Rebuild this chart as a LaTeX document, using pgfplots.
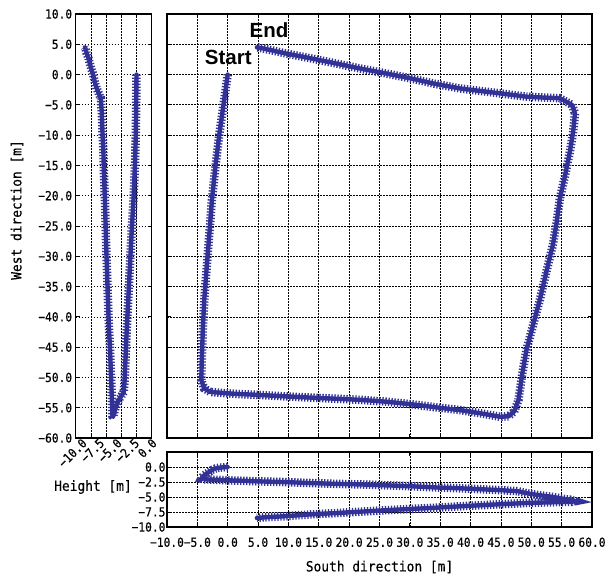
\documentclass[border=0pt]{standalone}
\usepackage{fontspec}
\setmainfont{Liberation Sans}
\newfontfamily\tickfont{DejaVu Sans Mono}[FakeStretch=0.9, FakeBold=0.5]
\newfontfamily\labelfont{DejaVu Sans Mono}[FakeStretch=0.92, FakeBold=0.4]
\usepackage{pgfplots}
\usepackage{pgfplotstable}
\pgfplotsset{compat=1.18}
\definecolor{traj}{RGB}{50,50,150}

\pgfplotstableread{
s w h
0 0 0
-0.7 -5 -0.05
-1.4 -10 -0.12
-2.0 -15 -0.25
-2.6 -20.7 -0.5
-3.0 -26 -0.8
-3.4 -31 -1.05
-3.85 -37 -1.35
-4.1 -42 -1.6
-4.3 -48 -1.85
-4.35 -50.4 -1.95
-3.9 -51.8 -2.05
-2.9 -52.4 -2.1
1.0 -52.7 -2.25
5.3 -52.9 -2.4
9.0 -53.1 -2.5
13.0 -53.3 -2.65
17.5 -53.5 -2.8
21.8 -53.7 -2.9
26.0 -54.0 -3.05
30.0 -54.4 -3.2
34.0 -54.9 -3.4
38.3 -55.4 -3.55
41.5 -55.9 -3.7
44.9 -56.5 -3.85
46.3 -56.4 -3.95
47.2 -55.6 -4.0
47.9 -53.7 -4.05
48.5 -49.5 -4.2
49.2 -45.5 -4.35
50.3 -41.3 -4.55
51.4 -37.2 -4.7
52.5 -32.5 -4.85
53.6 -27.9 -5.0
54.2 -24.2 -5.1
54.7 -20.5 -5.2
55.6 -16.5 -5.35
56.4 -12.5 -5.45
56.9 -9.4 -5.6
57.2 -6.4 -5.7
56.7 -5.0 -5.8
54.7 -3.9 -5.85
52.0 -3.8 -5.92
49.2 -3.65 -6.0
44.0 -3.0 -6.25
38.3 -2.3 -6.55
34.0 -1.5 -6.8
30.0 -0.6 -7.0
26.0 0.2 -7.2
21.8 1.0 -7.45
17.5 1.9 -7.7
13.6 2.7 -7.9
9.5 3.5 -8.2
5.9 4.3 -8.4
4.8 4.5 -8.5
}\trajtable

\pgfplotsset{
  common/.style={
    scale only axis,
    axis line style={line width=1.2pt},
    grid=major,
    grid style={black, line width=0.7pt, dash pattern=on 1.5pt off 1.5pt},
    tick style={black, line width=0.8pt},
    major tick length=4pt,
    tick align=inside,
    ticklabel style={font=\fontsize{12.5}{14}\tickfont},
  },
  trajcore/.style={traj, line width=4.4pt, line join=round, line cap=round},
  trajteeth/.style={traj, line width=8.5pt, dash pattern=on 1.3pt off 1.7pt},
}

\begin{document}
\begin{tikzpicture}[x=1pt,y=1pt]
\useasboundingbox (0,0) rectangle (609,577);

% main axis
\begin{axis}[common, at={(167pt,139pt)}, anchor=south west,
  width=425pt, height=424pt,
  xmin=-10, xmax=60, ymin=-60, ymax=10,
  xtick={-10,-5,...,60}, ytick={-60,-55,...,10},
  xticklabels={}, yticklabels={}]
\addplot[trajcore] table[x=s,y=w]{\trajtable};
\addplot[trajteeth] table[x=s,y=w]{\trajtable};
\node[font=\fontsize{20.5}{22}\selectfont\bfseries] at (axis cs:0.1,2.8) {Start};
\node[font=\fontsize{20.5}{22}\selectfont\bfseries] at (axis cs:6.8,7.4) {End};
\end{axis}

% left axis (height vs west)
\begin{axis}[common, at={(75.7pt,139pt)}, anchor=south west,
  width=76pt, height=424pt,
  xmin=-10, xmax=2.5, ymin=-60, ymax=10,
  xtick={-10,-7.5,-5,-2.5,0,2.5},
  xticklabels={},
  extra x ticks={-9.01,-6.13,-3.26,-0.38,2.5},
  extra x tick labels={−10.0,−7.5,−5.0,−2.5,0.0},
  extra x tick style={grid=none, major tick length=0pt,
    xticklabel style={rotate=45, anchor=east, inner sep=0pt, yshift=-4pt}},
  ytick={-60,-55,...,10},
  yticklabels={−60.0,−55.0,−50.0,−45.0,−40.0,−35.0,−30.0,−25.0,−20.0,−15.0,−10.0,−5.0,0.0,5.0,10.0}]
\addplot[trajcore] table[x=h,y=w]{\trajtable};
\addplot[trajteeth] table[x=h,y=w]{\trajtable};
\end{axis}

% bottom axis (south vs height)
\begin{axis}[common, at={(167pt,50pt)}, anchor=south west,
  width=425pt, height=75pt,
  xmin=-10, xmax=60, ymin=-10, ymax=2.5,
  xtick={-10,-5,...,60},
  xticklabels={−10.0,−5.0,0.0,5.0,10.0,15.0,20.0,25.0,30.0,35.0,40.0,45.0,50.0,55.0,60.0},
  xticklabel style={yshift=-7pt},
  yticklabel style={xshift=2pt},
  ytick={-10,-7.5,-5,-2.5,0,2.5},
  yticklabels={−10.0,−7.5,−5.0,−2.5,0.0,{}}]
\addplot[trajcore] table[x=s,y=h]{\trajtable};
\addplot[trajteeth] table[x=s,y=h]{\trajtable};
\end{axis}

\node[font=\fontsize{14}{16}\labelfont, rotate=90] at (17,367) {West direction [m]};
\node[font=\fontsize{14}{16}\labelfont] at (93,90) {Height [m]};
\node[font=\fontsize{14}{16}\labelfont] at (379.5,10) {South direction [m]};
\end{tikzpicture}
\end{document}
